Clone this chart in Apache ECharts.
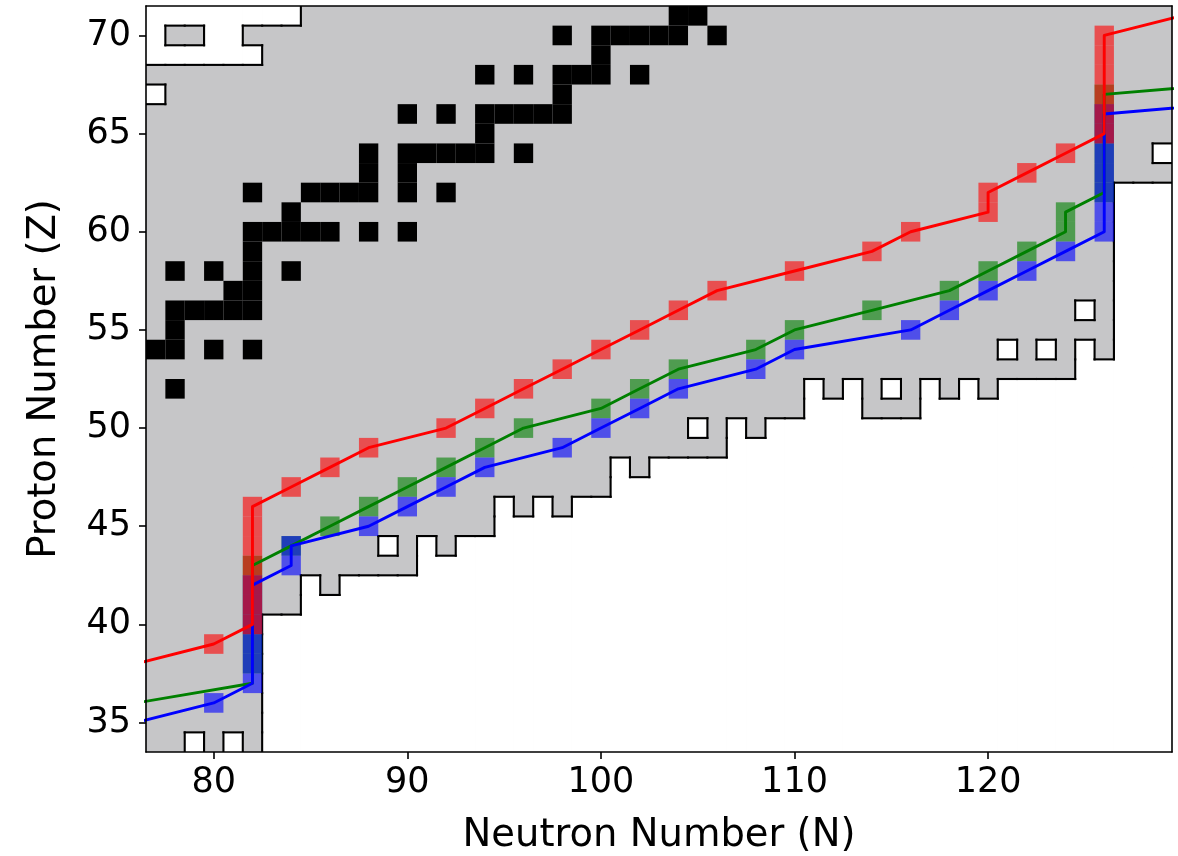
<!DOCTYPE html>
<html><head><meta charset="utf-8">
<script src="https://cdn.jsdelivr.net/npm/echarts@6/dist/echarts.min.js"></script>
<style>html,body{margin:0;padding:0;background:#fff}#c{width:1178px;height:856px}</style>
</head><body><div id="c"></div>
<script>
// ---------- data ----------
const xTicks = [80, 90, 100, 110, 120];
const yTicks = [35, 40, 45, 50, 55, 60, 65, 70];

// lowest known proton number for each neutron number N = 77 ... 129
const firstN = 77;
const lowestKnownZ = [
  33, 33, 33, 33, 33, 33,             // 77-82
  41, 41, 43, 42, 43, 43, 43, 43,     // 83-90
  45, 44, 45, 45, 47, 46, 47, 46, 47, 47, // 91-100
  49, 48, 49, 49, 49, 49, 51, 50, 51, 51, // 101-110
  53, 52, 53, 51, 51, 51, 53, 52, 53, 52, // 111-120
  53, 53, 53, 53, 55, 54, 63, 63, 63      // 121-129
];
// unknown nuclei on the proton-rich side (top left)
const unknownProtonRich = [
  [77,71],[78,71],[79,71],[80,71],[81,71],[82,71],[83,71],[84,71],
  [77,70],[80,70],[81,70],
  [77,69],[78,69],[79,69],[80,69],[81,69],[82,69],
  [77,67]
];
// isolated unknown nuclei inside the known region
const unknownHoles = [[79,34],[81,34],[89,44],[105,50],[115,52],[121,54],[123,54],[125,56],[129,64]];

// stable nuclei [N, Z]
const stableNuclei = [
  [78,52],
  [77,54],[78,54],[80,54],[82,54],
  [78,55],
  [78,56],[79,56],[80,56],[81,56],[82,56],
  [81,57],[82,57],
  [78,58],[80,58],[82,58],[84,58],
  [82,59],
  [82,60],[83,60],[84,60],[85,60],[86,60],[88,60],[90,60],
  [84,61],
  [82,62],[85,62],[86,62],[87,62],[88,62],[90,62],[92,62],
  [88,63],[90,63],
  [88,64],[90,64],[91,64],[92,64],[93,64],[94,64],[96,64],
  [94,65],
  [90,66],[92,66],[94,66],[95,66],[96,66],[97,66],[98,66],
  [98,67],
  [94,68],[96,68],[98,68],[99,68],[100,68],[102,68],
  [100,69],
  [98,70],[100,70],[101,70],[102,70],[103,70],[104,70],[106,70],
  [104,71],[105,71]
];

// waiting-point squares [N, Z]
const redSquares = [
  [80,39],[82,40],[82,41],[82,42],[82,43],[82,44],[82,45],[82,46],
  [84,47],[86,48],[88,49],[92,50],[94,51],[96,52],[98,53],[100,54],[102,55],[104,56],[106,57],
  [110,58],[114,59],[116,60],[120,61],[120,62],[122,63],[124,64],
  [126,65],[126,66],[126,67],[126,68],[126,69],[126,70]
];
const greenSquares = [
  [82,38],[82,39],[82,40],[82,41],[82,42],[82,43],
  [84,44],[86,45],[88,46],[90,47],[92,48],[94,49],[96,50],[100,51],[102,52],[104,53],
  [108,54],[110,55],[114,56],[118,57],[120,58],[122,59],[124,60],[124,61],
  [126,62],[126,63],[126,64],[126,65],[126,66],[126,67]
];
const blueSquares = [
  [80,36],[82,37],[82,38],[82,39],[82,40],[82,41],[82,42],
  [84,43],[84,44],[88,45],[90,46],[92,47],[94,48],[98,49],[100,50],[102,51],[104,52],
  [108,53],[110,54],[116,55],[118,56],[120,57],[122,58],[124,59],
  [126,60],[126,61],[126,62],[126,63],[126,64],[126,65],[126,66]
];

// paths [N, Z]
const redPath = [[76,38],[80,39],[82,40],[82,46],[84,47],[86,48],[88,49],[92,50],[94,51],[96,52],[98,53],[100,54],[102,55],[104,56],[106,57],[110,58],[114,59],[116,60],[120,61],[120,62],[122,63],[124,64],[126,65],[126,70],[130,71]];
const greenPath = [[76,36],[82,37],[82,43],[84,44],[86,45],[88,46],[90,47],[92,48],[94,49],[96,50],[100,51],[102,52],[104,53],[108,54],[110,55],[114,56],[118,57],[120,58],[122,59],[124,60],[124,61],[126,62],[126,67],[138,68]];
const bluePath = [[76,35],[80,36],[82,37],[82,42],[84,43],[84,44],[88,45],[90,46],[92,47],[94,48],[98,49],[100,50],[102,51],[104,52],[108,53],[110,54],[116,55],[118,56],[120,57],[122,58],[124,59],[126,60],[126,66],[138,67]];

// ---------- derived geometry ----------
const N_MIN = firstN, N_MAX = firstN + lowestKnownZ.length - 1, Z_MIN = 34, Z_MAX = 71;
const unknownSet = new Set(unknownProtonRich.concat(unknownHoles).map(c => c[0] + ',' + c[1]));
function known(n, z) {
  n = Math.min(N_MAX, Math.max(N_MIN, n));
  z = Math.min(Z_MAX, Math.max(Z_MIN, z));
  if (z < lowestKnownZ[n - N_MIN]) return false;
  return !unknownSet.has(n + ',' + z);
}
const whiteRects = [];
lowestKnownZ.forEach((lo, i) => {
  const n = N_MIN + i;
  if (lo > Z_MIN) whiteRects.push([n - 0.5, n + 0.5, Z_MIN - 1.5, lo - 0.5]);
});
unknownProtonRich.concat(unknownHoles).forEach(([n, z]) => whiteRects.push([n - 0.5, n + 0.5, z - 0.5, z + 0.5]));

const edges = [];
for (let n = N_MIN; n <= N_MAX; n++) {
  for (let z = Z_MIN; z <= Z_MAX; z++) {
    const k = known(n, z);
    if (k !== known(n + 1, z)) edges.push([n + 0.5, z - 0.5, n + 0.5, z + 0.5]);
    if (k !== known(n, z + 1)) edges.push([n - 0.5, z + 0.5, n + 0.5, z + 0.5]);
  }
}

// ---------- chart ----------
const FONT = 'DejaVu Sans';
const chart = echarts.init(document.getElementById('c'), null, {renderer: 'canvas'});

function rectRender(fill) {
  return function (params, api) {
    const a = api.coord([api.value(0), api.value(3)]);
    const b = api.coord([api.value(1), api.value(2)]);
    return {type: 'rect', shape: {x: a[0], y: a[1], width: b[0] - a[0], height: b[1] - a[1]},
      style: {fill: fill, stroke: fill, lineWidth: 1}};
  };
}
function cellRender(fill) {
  return function (params, api) {
    const n = api.value(0), z = api.value(1);
    const a = api.coord([n - 0.5, z + 0.5]);
    const b = api.coord([n + 0.5, z - 0.5]);
    return {type: 'rect', shape: {x: a[0], y: a[1], width: b[0] - a[0], height: b[1] - a[1]},
      style: {fill: fill}};
  };
}
function edgeRender(params, api) {
  const a = api.coord([api.value(0), api.value(1)]);
  const b = api.coord([api.value(2), api.value(3)]);
  return {type: 'line', shape: {x1: a[0], y1: a[1], x2: b[0], y2: b[1]},
    style: {stroke: '#000', lineWidth: 2.1, lineCap: 'square'}};
}
function cellSeries(data, fill, z) {
  return {type: 'custom', data: data, renderItem: cellRender(fill), encode: {x: 0, y: 1}, clip: true, z: z, silent: true};
}
function pathSeries(data, color, z) {
  return {type: 'line', data: data, showSymbol: false, symbol: 'none', clip: true, z: z, silent: true,
    lineStyle: {color: color, width: 2.9, join: 'round', cap: 'round'}};
}

const axisLineStyle = {color: '#000', width: 1.6};
chart.setOption({
  animation: false,
  grid: {left: 146, right: 6, top: 6, bottom: 104, show: true, backgroundColor: '#c6c6c8', borderWidth: 0,
    containLabel: false, outerBoundsMode: 'none'},
  xAxis: [{
    type: 'value', min: 76.5, max: 129.5, position: 'bottom', z: 10,
    axisLine: {show: true, onZero: false, lineStyle: axisLineStyle},
    axisTick: {show: true, customValues: xTicks, length: 7, lineStyle: axisLineStyle},
    axisLabel: {show: true, customValues: xTicks, fontSize: 35, fontFamily: FONT, color: '#000', margin: 13},
    splitLine: {show: false},
    name: 'Neutron Number (N)', nameLocation: 'middle', nameGap: 64,
    nameTextStyle: {fontSize: 38.5, fontFamily: FONT, color: '#000'}
  }, {
    type: 'value', min: 76.5, max: 129.5, position: 'top', z: 10,
    axisLine: {show: true, onZero: false, lineStyle: axisLineStyle},
    axisTick: {show: false}, axisLabel: {show: false}, splitLine: {show: false}
  }],
  yAxis: [{
    type: 'value', min: 33.5, max: 71.5, position: 'left', z: 10,
    axisLine: {show: true, onZero: false, lineStyle: axisLineStyle},
    axisTick: {show: true, customValues: yTicks, length: 7, lineStyle: axisLineStyle},
    axisLabel: {show: true, customValues: yTicks, fontSize: 35, fontFamily: FONT, color: '#000', margin: 15},
    splitLine: {show: false},
    name: 'Proton Number (Z)', nameLocation: 'middle', nameGap: 82,
    nameTextStyle: {fontSize: 38.5, fontFamily: FONT, color: '#000'}
  }, {
    type: 'value', min: 33.5, max: 71.5, position: 'right', z: 10,
    axisLine: {show: true, onZero: false, lineStyle: axisLineStyle},
    axisTick: {show: false}, axisLabel: {show: false}, splitLine: {show: false}
  }],
  series: [
    {type: 'custom', data: whiteRects, renderItem: rectRender('#ffffff'), encode: {x: [0, 1], y: [2, 3]}, clip: true, z: 1, silent: true},
    cellSeries(stableNuclei, '#000000', 2),
    {type: 'custom', data: edges, renderItem: edgeRender, encode: {x: [0, 2], y: [1, 3]}, clip: true, z: 3, silent: true},
    cellSeries(greenSquares, 'rgba(0,128,0,0.6)', 4),
    cellSeries(blueSquares, 'rgba(0,0,255,0.6)', 5),
    cellSeries(redSquares, 'rgba(255,0,0,0.6)', 6),
    pathSeries(greenPath, '#008000', 7),
    pathSeries(bluePath, '#0000ff', 8),
    pathSeries(redPath, '#ff0000', 9)
  ]
});
</script></body></html>
